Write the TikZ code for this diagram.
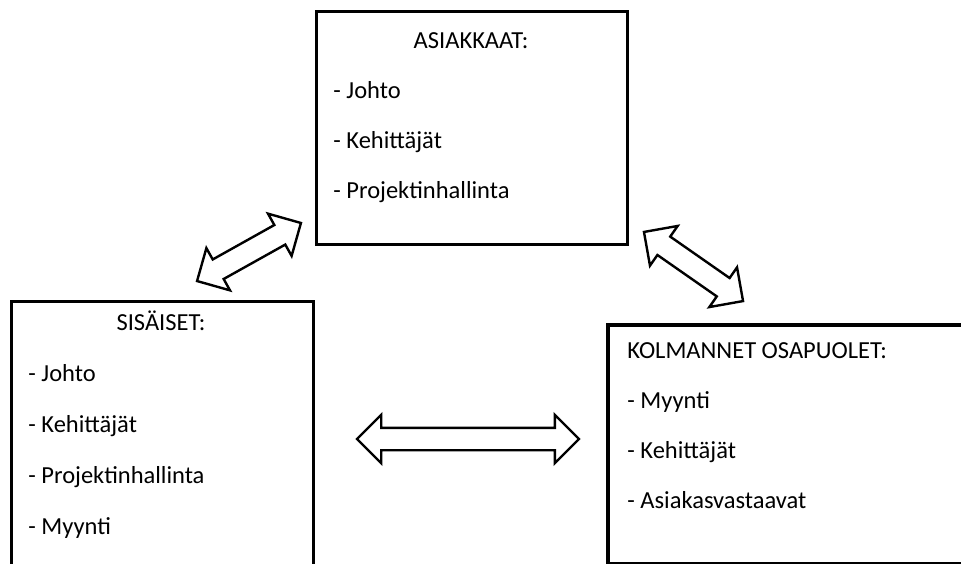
\documentclass[tikz,border=0pt]{standalone}
\usepackage{fontspec}
\setmainfont{Carlito}
\usetikzlibrary{shapes.arrows}

\tikzset{
  groupbox/.style={draw, rectangle, line width=1.6pt, anchor=north west, inner sep=0pt},
  heading/.style={anchor=base, inner sep=0pt, font=\fontsize{12.25}{15}\selectfont},
  entry/.style={anchor=base west, inner sep=0pt, font=\fontsize{12.25}{15}\selectfont},
  link/.style={double arrow, draw, line width=1.2pt, inner xsep=0pt, inner ysep=5pt,
    double arrow head extend=6.5pt, minimum height=#1}
}

\begin{document}
\begin{tikzpicture}[x=0.5pt,y=-0.5pt]
\useasboundingbox (0,0) rectangle (961,563);
\begin{scope}
\clip (0,0) rectangle (961,563);
% the three groups
\node[groupbox, minimum width=155.5pt, minimum height=116.5pt] (asiakkaat) at (315,10) {};
\node[groupbox, minimum width=151pt, minimum height=145pt] (sisaiset) at (10,300) {};
\node[groupbox, draw=none, minimum width=200pt, minimum height=117.5pt] (kolmannet) at (608,325) {};
\draw[line width=1.6pt] (kolmannet.north east) -- (kolmannet.north west)
	-- (kolmannet.south west) -- (kolmannet.south east);
\end{scope}

\node[heading] (asiakkaat-t) at (471,48) {ASIAKKAAT:};
\foreach \t [count=\i] in {Johto, Kehittäjät, Projektinhallinta}
	\node[entry] (asiakkaat-\i) at (333, 48+50*\i) {- \t};

\node[heading] (sisaiset-t) at (161,330) {SISÄISET:};
\foreach \t [count=\i] in {Johto, Kehittäjät, Projektinhallinta, Myynti}
	\node[entry] (sisaiset-\i) at (28, 330+51*\i) {- \t};

\node[entry] (kolmannet-t) at (627,358) {KOLMANNET OSAPUOLET:};
\foreach \t [count=\i] in {Myynti, Kehittäjät, Asiakasvastaavat}
	\node[entry] (kolmannet-\i) at (627, 358+50*\i) {- \t};

% arrows between the groups
\node[link=59.5pt, rotate=29.2] (sis-asi) at (249,252) {};
\node[link=60.4pt, rotate=-34.9] (asi-kol) at (693.5,266.5) {};
\node[link=111pt] (sis-kol) at (468,439) {};
\end{tikzpicture}
\end{document}
